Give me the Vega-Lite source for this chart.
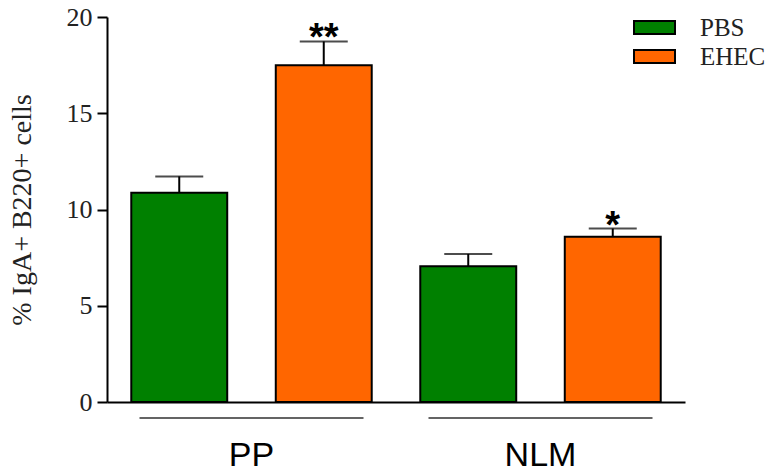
{
  "$schema": "https://vega.github.io/schema/vega-lite/v6.json",
  "width": 578,
  "height": 385,
  "autosize": {"type": "none"},
  "padding": {"left": 107, "top": 17, "right": 90, "bottom": 69},
  "background": "white",
  "config": {"view": {"stroke": null}, "axis": {"grid": false}},
  "datasets": {
    "bars": [
      {"group": "PP", "treatment": "PBS", "value": 10.87, "upper": 11.72, "sig": ""},
      {"group": "PP", "treatment": "EHEC", "value": 17.5, "upper": 18.73, "sig": "**"},
      {"group": "NLM", "treatment": "PBS", "value": 7.05, "upper": 7.69, "sig": ""},
      {"group": "NLM", "treatment": "EHEC", "value": 8.58, "upper": 9.01, "sig": "*"}
    ],
    "groups": [{"group": "PP"}, {"group": "NLM"}]
  },
  "encoding": {
    "x": {
      "field": "group",
      "type": "nominal",
      "sort": ["PP", "NLM"],
      "scale": {"paddingInner": 0, "paddingOuter": 0},
      "axis": {
        "title": null,
        "labelAngle": 0,
        "labelFont": "Liberation Sans",
        "labelFontSize": 34,
        "labelColor": "black",
        "ticks": false,
        "labelPadding": 36,
        "domainColor": "black",
        "domainWidth": 2
      }
    }
  },
  "layer": [
    {
      "data": {"name": "bars"},
      "mark": {"type": "bar", "stroke": "black", "strokeWidth": 2},
      "encoding": {
        "xOffset": {"field": "treatment", "type": "nominal", "sort": ["PBS", "EHEC"], "scale": {"paddingInner": 0.336, "paddingOuter": 0.168}},
        "y": {
          "field": "value",
          "type": "quantitative",
          "title": "% IgA+ B220+ cells",
          "scale": {"domain": [0, 20], "nice": false},
          "axis": {
            "values": [0, 5, 10, 15, 20],
            "labelFont": "Liberation Serif",
            "labelFontSize": 26,
            "labelColor": "#222",
            "titleFont": "Liberation Serif",
            "titleFontSize": 28,
            "titleFontWeight": "normal",
            "titleColor": "#222",
            "domainColor": "black",
            "domainWidth": 2,
            "tickColor": "black",
            "tickWidth": 2,
            "tickSize": 10,
            "labelPadding": 5,
            "titlePadding": 30
          }
        },
        "color": {
          "field": "treatment",
          "type": "nominal",
          "sort": ["PBS", "EHEC"],
          "scale": {"domain": ["PBS", "EHEC"], "range": ["#008000", "#FF6600"]},
          "legend": {
            "orient": "none",
            "legendX": 526,
            "legendY": -1.5,
            "title": null,
            "padding": 0,
            "symbolType": "M-1,-0.32H1V0.32H-1Z",
            "symbolSize": 1681,
            "symbolStrokeColor": "black",
            "symbolStrokeWidth": 2,
            "labelFont": "Liberation Serif",
            "labelFontSize": 25,
            "labelColor": "#222",
            "labelOffset": 24,
            "clipHeight": 24,
            "rowPadding": 4
          }
        }
      }
    },
    {
      "data": {"name": "groups"},
      "mark": {"type": "tick", "orient": "horizontal", "size": 224, "thickness": 2, "color": "#222"},
      "encoding": {
        "y": {"datum": -0.83, "type": "quantitative", "title": "% IgA+ B220+ cells"}
      }
    },
    {
      "data": {"name": "bars"},
      "mark": {"type": "rule", "strokeWidth": 2, "color": "black"},
      "encoding": {
        "xOffset": {"field": "treatment", "type": "nominal", "sort": ["PBS", "EHEC"], "scale": {"paddingInner": 0.336, "paddingOuter": 0.168}},
        "y": {"field": "value", "type": "quantitative", "title": "% IgA+ B220+ cells"},
        "y2": {"field": "upper"}
      }
    },
    {
      "data": {"name": "bars"},
      "mark": {"type": "tick", "orient": "horizontal", "size": 48, "thickness": 2, "color": "black"},
      "encoding": {
        "xOffset": {"field": "treatment", "type": "nominal", "sort": ["PBS", "EHEC"], "scale": {"paddingInner": 0.336, "paddingOuter": 0.168}},
        "y": {"field": "upper", "type": "quantitative", "title": "% IgA+ B220+ cells"}
      }
    },
    {
      "data": {"name": "bars"},
      "mark": {"type": "text", "font": "Liberation Sans", "fontWeight": "bold", "fontSize": 38, "baseline": "alphabetic", "dy": 9, "color": "black"},
      "encoding": {
        "xOffset": {"field": "treatment", "type": "nominal", "sort": ["PBS", "EHEC"], "scale": {"paddingInner": 0.336, "paddingOuter": 0.168}},
        "y": {"field": "upper", "type": "quantitative", "title": "% IgA+ B220+ cells"},
        "text": {"field": "sig"}
      }
    }
  ]
}
